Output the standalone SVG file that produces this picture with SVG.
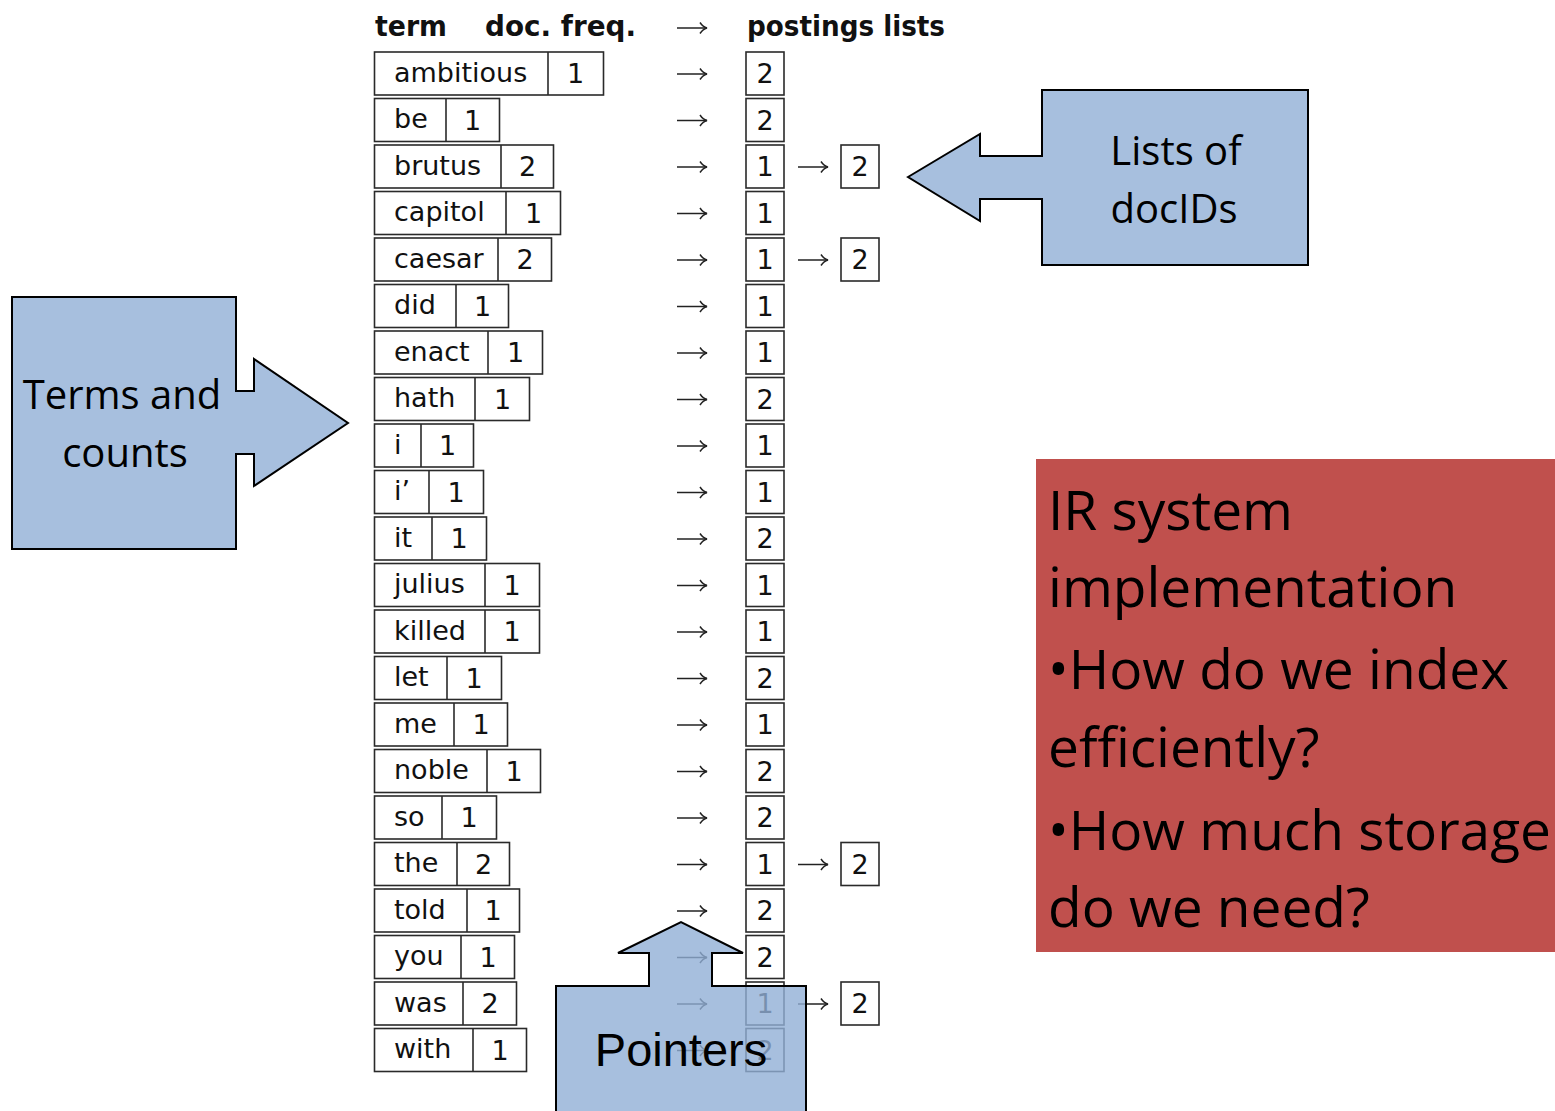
<svg xmlns="http://www.w3.org/2000/svg" width="1555" height="1111" viewBox="0 0 1555 1111">
<style>
  .bx{fill:#fff;stroke:#2a2a2a;stroke-width:1.6}
  .dv{stroke:#2a2a2a;stroke-width:1.6}
  .tt{font-family:"DejaVu Sans",sans-serif;font-size:27px;fill:#111}
  .nm{font-family:"DejaVu Sans",sans-serif;font-size:27px;fill:#111;text-anchor:middle}
  .hd{font-family:"DejaVu Sans",sans-serif;font-weight:bold;font-size:28px;fill:#111}
  .ar{stroke:#222;stroke-width:1.5;fill:none;marker-end:url(#hk)}
  .co{fill:#A7BFDE;stroke:#000;stroke-width:2}
  .cl{font-family:"Open Sans","Noto Sans",sans-serif;font-size:40px;fill:#000;text-anchor:middle}
  .rt{font-family:"Open Sans","Noto Sans",sans-serif;font-size:55px;fill:#000}
</style>
<defs>
  <marker id="hk" markerUnits="userSpaceOnUse" markerWidth="12" markerHeight="14" refX="8" refY="7" orient="auto" viewBox="0 0 12 14">
    <path d="M1,1.5 Q4,6 8,7 Q4,8 1,12.5" fill="none" stroke="#222" stroke-width="1.5"/>
  </marker>
</defs>
<rect width="1555" height="1111" fill="#fff"/>

<g id="header">
  <text class="hd" x="375" y="36" textLength="72" lengthAdjust="spacingAndGlyphs">term</text>
  <text class="hd" x="485" y="36" textLength="151" lengthAdjust="spacingAndGlyphs">doc. freq.</text>
  <text class="hd" x="747" y="36" textLength="198" lengthAdjust="spacingAndGlyphs">postings lists</text>
</g>

<g id="terms">
  <g id="t-ambitious"><rect class="bx" x="374.5" y="52" width="229" height="43"/><line class="dv" x1="548" y1="52" x2="548" y2="95"/><text class="tt" x="394" y="81.5">ambitious</text><text class="nm" x="575.5" y="83">1</text></g>
  <g id="t-be"><rect class="bx" x="374.5" y="98.5" width="125" height="43"/><line class="dv" x1="446" y1="98.5" x2="446" y2="141.5"/><text class="tt" x="394" y="128">be</text><text class="nm" x="472.5" y="129.5">1</text></g>
  <g id="t-brutus"><rect class="bx" x="374.5" y="145" width="179" height="43"/><line class="dv" x1="501" y1="145" x2="501" y2="188"/><text class="tt" x="394" y="174.5">brutus</text><text class="nm" x="527.5" y="176">2</text></g>
  <g id="t-capitol"><rect class="bx" x="374.5" y="191.5" width="186" height="43"/><line class="dv" x1="506" y1="191.5" x2="506" y2="234.5"/><text class="tt" x="394" y="221">capitol</text><text class="nm" x="533.5" y="222.5">1</text></g>
  <g id="t-caesar"><rect class="bx" x="374.5" y="238" width="177" height="43"/><line class="dv" x1="498" y1="238" x2="498" y2="281"/><text class="tt" x="394" y="267.5">caesar</text><text class="nm" x="525" y="269">2</text></g>
  <g id="t-did"><rect class="bx" x="374.5" y="284.5" width="134" height="43"/><line class="dv" x1="456" y1="284.5" x2="456" y2="327.5"/><text class="tt" x="394" y="314">did</text><text class="nm" x="482.5" y="315.5">1</text></g>
  <g id="t-enact"><rect class="bx" x="374.5" y="331" width="168" height="43"/><line class="dv" x1="488" y1="331" x2="488" y2="374"/><text class="tt" x="394" y="360.5">enact</text><text class="nm" x="515.5" y="362">1</text></g>
  <g id="t-hath"><rect class="bx" x="374.5" y="377.5" width="155" height="43"/><line class="dv" x1="475" y1="377.5" x2="475" y2="420.5"/><text class="tt" x="394" y="407">hath</text><text class="nm" x="502.5" y="408.5">1</text></g>
  <g id="t-i"><rect class="bx" x="374.5" y="424" width="99" height="43"/><line class="dv" x1="421" y1="424" x2="421" y2="467"/><text class="tt" x="394" y="453.5">i</text><text class="nm" x="447.5" y="455">1</text></g>
  <g id="t-i2"><rect class="bx" x="374.5" y="470.5" width="109" height="43"/><line class="dv" x1="429" y1="470.5" x2="429" y2="513.5"/><text class="tt" x="394" y="500">i’</text><text class="nm" x="456" y="501.5">1</text></g>
  <g id="t-it"><rect class="bx" x="374.5" y="517" width="112" height="43"/><line class="dv" x1="432" y1="517" x2="432" y2="560"/><text class="tt" x="394" y="546.5">it</text><text class="nm" x="459" y="548">1</text></g>
  <g id="t-julius"><rect class="bx" x="374.5" y="563.5" width="165" height="43"/><line class="dv" x1="485" y1="563.5" x2="485" y2="606.5"/><text class="tt" x="394" y="593">julius</text><text class="nm" x="512" y="594.5">1</text></g>
  <g id="t-killed"><rect class="bx" x="374.5" y="610" width="165" height="43"/><line class="dv" x1="485" y1="610" x2="485" y2="653"/><text class="tt" x="394" y="639.5">killed</text><text class="nm" x="512" y="641">1</text></g>
  <g id="t-let"><rect class="bx" x="374.5" y="656.5" width="127" height="43"/><line class="dv" x1="447" y1="656.5" x2="447" y2="699.5"/><text class="tt" x="394" y="686">let</text><text class="nm" x="474" y="687.5">1</text></g>
  <g id="t-me"><rect class="bx" x="374.5" y="703" width="133" height="43"/><line class="dv" x1="454" y1="703" x2="454" y2="746"/><text class="tt" x="394" y="732.5">me</text><text class="nm" x="481" y="734">1</text></g>
  <g id="t-noble"><rect class="bx" x="374.5" y="749.5" width="166" height="43"/><line class="dv" x1="487" y1="749.5" x2="487" y2="792.5"/><text class="tt" x="394" y="779">noble</text><text class="nm" x="514" y="780.5">1</text></g>
  <g id="t-so"><rect class="bx" x="374.5" y="796" width="122" height="43"/><line class="dv" x1="442" y1="796" x2="442" y2="839"/><text class="tt" x="394" y="825.5">so</text><text class="nm" x="469" y="827">1</text></g>
  <g id="t-the"><rect class="bx" x="374.5" y="842.5" width="135" height="43"/><line class="dv" x1="457" y1="842.5" x2="457" y2="885.5"/><text class="tt" x="394" y="872">the</text><text class="nm" x="483.5" y="873.5">2</text></g>
  <g id="t-told"><rect class="bx" x="374.5" y="889" width="145" height="43"/><line class="dv" x1="467" y1="889" x2="467" y2="932"/><text class="tt" x="394" y="918.5">told</text><text class="nm" x="493" y="920">1</text></g>
  <g id="t-you"><rect class="bx" x="374.5" y="935.5" width="140" height="43"/><line class="dv" x1="461" y1="935.5" x2="461" y2="978.5"/><text class="tt" x="394" y="965">you</text><text class="nm" x="488" y="966.5">1</text></g>
  <g id="t-was"><rect class="bx" x="374.5" y="982" width="142" height="43"/><line class="dv" x1="463" y1="982" x2="463" y2="1025"/><text class="tt" x="394" y="1011.5">was</text><text class="nm" x="490" y="1013">2</text></g>
  <g id="t-with"><rect class="bx" x="374.5" y="1028.5" width="152" height="43"/><line class="dv" x1="473" y1="1028.5" x2="473" y2="1071.5"/><text class="tt" x="394" y="1058">with</text><text class="nm" x="500" y="1059.5">1</text></g>
</g>

<g id="postings">
  <g id="p-ambitious"><rect class="bx" x="746" y="52" width="38" height="43"/><text class="nm" x="765" y="83">2</text></g>
  <g id="p-be"><rect class="bx" x="746" y="98.5" width="38" height="43"/><text class="nm" x="765" y="129.5">2</text></g>
  <g id="p-brutus"><rect class="bx" x="746" y="145" width="38" height="43"/><text class="nm" x="765" y="176">1</text><rect class="bx" x="841" y="145" width="38" height="43"/><text class="nm" x="860" y="176">2</text></g>
  <g id="p-capitol"><rect class="bx" x="746" y="191.5" width="38" height="43"/><text class="nm" x="765" y="222.5">1</text></g>
  <g id="p-caesar"><rect class="bx" x="746" y="238" width="38" height="43"/><text class="nm" x="765" y="269">1</text><rect class="bx" x="841" y="238" width="38" height="43"/><text class="nm" x="860" y="269">2</text></g>
  <g id="p-did"><rect class="bx" x="746" y="284.5" width="38" height="43"/><text class="nm" x="765" y="315.5">1</text></g>
  <g id="p-enact"><rect class="bx" x="746" y="331" width="38" height="43"/><text class="nm" x="765" y="362">1</text></g>
  <g id="p-hath"><rect class="bx" x="746" y="377.5" width="38" height="43"/><text class="nm" x="765" y="408.5">2</text></g>
  <g id="p-i"><rect class="bx" x="746" y="424" width="38" height="43"/><text class="nm" x="765" y="455">1</text></g>
  <g id="p-i2"><rect class="bx" x="746" y="470.5" width="38" height="43"/><text class="nm" x="765" y="501.5">1</text></g>
  <g id="p-it"><rect class="bx" x="746" y="517" width="38" height="43"/><text class="nm" x="765" y="548">2</text></g>
  <g id="p-julius"><rect class="bx" x="746" y="563.5" width="38" height="43"/><text class="nm" x="765" y="594.5">1</text></g>
  <g id="p-killed"><rect class="bx" x="746" y="610" width="38" height="43"/><text class="nm" x="765" y="641">1</text></g>
  <g id="p-let"><rect class="bx" x="746" y="656.5" width="38" height="43"/><text class="nm" x="765" y="687.5">2</text></g>
  <g id="p-me"><rect class="bx" x="746" y="703" width="38" height="43"/><text class="nm" x="765" y="734">1</text></g>
  <g id="p-noble"><rect class="bx" x="746" y="749.5" width="38" height="43"/><text class="nm" x="765" y="780.5">2</text></g>
  <g id="p-so"><rect class="bx" x="746" y="796" width="38" height="43"/><text class="nm" x="765" y="827">2</text></g>
  <g id="p-the"><rect class="bx" x="746" y="842.5" width="38" height="43"/><text class="nm" x="765" y="873.5">1</text><rect class="bx" x="841" y="842.5" width="38" height="43"/><text class="nm" x="860" y="873.5">2</text></g>
  <g id="p-told"><rect class="bx" x="746" y="889" width="38" height="43"/><text class="nm" x="765" y="920">2</text></g>
  <g id="p-you"><rect class="bx" x="746" y="935.5" width="38" height="43"/><text class="nm" x="765" y="966.5">2</text></g>
  <g id="p-was"><rect class="bx" x="746" y="982" width="38" height="43"/><text class="nm" x="765" y="1013">1</text><rect class="bx" x="841" y="982" width="38" height="43"/><text class="nm" x="860" y="1013">2</text></g>
  <g id="p-with"><rect class="bx" x="746" y="1028.5" width="38" height="43"/><text class="nm" x="765" y="1059.5">2</text></g>
</g>

<g id="connectors">
  <line class="ar" x1="677" y1="28" x2="707" y2="28"/>
  <line class="ar" x1="677" y1="74" x2="707" y2="74"/>
  <line class="ar" x1="677" y1="120.5" x2="707" y2="120.5"/>
  <line class="ar" x1="677" y1="167" x2="707" y2="167"/>
  <line class="ar" x1="677" y1="213.5" x2="707" y2="213.5"/>
  <line class="ar" x1="677" y1="260" x2="707" y2="260"/>
  <line class="ar" x1="677" y1="306.5" x2="707" y2="306.5"/>
  <line class="ar" x1="677" y1="353" x2="707" y2="353"/>
  <line class="ar" x1="677" y1="399.5" x2="707" y2="399.5"/>
  <line class="ar" x1="677" y1="446" x2="707" y2="446"/>
  <line class="ar" x1="677" y1="492.5" x2="707" y2="492.5"/>
  <line class="ar" x1="677" y1="539" x2="707" y2="539"/>
  <line class="ar" x1="677" y1="585.5" x2="707" y2="585.5"/>
  <line class="ar" x1="677" y1="632" x2="707" y2="632"/>
  <line class="ar" x1="677" y1="678.5" x2="707" y2="678.5"/>
  <line class="ar" x1="677" y1="725" x2="707" y2="725"/>
  <line class="ar" x1="677" y1="771.5" x2="707" y2="771.5"/>
  <line class="ar" x1="677" y1="818" x2="707" y2="818"/>
  <line class="ar" x1="677" y1="864.5" x2="707" y2="864.5"/>
  <line class="ar" x1="677" y1="911" x2="707" y2="911"/>
  <line class="ar" x1="677" y1="957.5" x2="707" y2="957.5"/>
  <line class="ar" x1="677" y1="1004" x2="707" y2="1004"/>
  <line class="ar" x1="677" y1="1050.5" x2="707" y2="1050.5"/>
  <line class="ar" x1="798" y1="167" x2="828" y2="167"/>
  <line class="ar" x1="798" y1="260" x2="828" y2="260"/>
  <line class="ar" x1="798" y1="864.5" x2="828" y2="864.5"/>
  <line class="ar" x1="798" y1="1004" x2="828" y2="1004"/>
</g>

<g id="callout-lists">
  <path class="co" d="M908,177 L980,134 L980,156 L1042,156 L1042,90 L1308,90 L1308,265 L1042,265 L1042,199 L980,199 L980,221 Z"/>
  <text class="cl" x="1176" y="165">Lists of</text>
  <text class="cl" x="1174" y="223">docIDs</text>
</g>

<g id="callout-terms">
  <path class="co" d="M12,297 L236,297 L236,391 L254,391 L254,359 L348,423 L254,486 L254,454 L236,454 L236,549 L12,549 Z"/>
  <text class="cl" x="122" y="409">Terms and</text>
  <text class="cl" x="125" y="467">counts</text>
</g>

<g id="callout-pointers">
  <path d="M556,1115 L556,986 L649,986 L649,953 L618,953 L681,922 L743,953 L712,953 L712,986 L806,986 L806,1115" fill="#91AFD6" fill-opacity="0.8" stroke="#000" stroke-width="2"/>
  <text x="681" y="1066" font-family="'Liberation Sans',Arial,sans-serif" font-size="47" fill="#000" text-anchor="middle">Pointers</text>
</g>

<g id="red-box">
  <rect x="1036" y="459" width="519" height="493" fill="#C0504D"/>
  <text class="rt" x="1048" y="530">IR system</text>
  <text class="rt" x="1048" y="607">implementation</text>
  <text class="rt" x="1048" y="689">•How do we index</text>
  <text class="rt" x="1048" y="767">efficiently?</text>
  <text class="rt" x="1048" y="850">•How much storage</text>
  <text class="rt" x="1048" y="927">do we need?</text>
</g>
</svg>
